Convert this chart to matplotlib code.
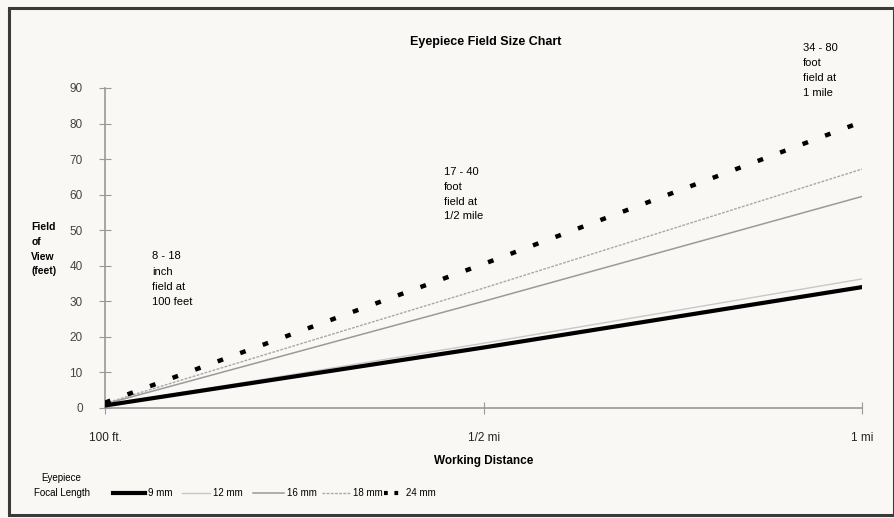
import matplotlib
matplotlib.use("Agg")
import matplotlib.pyplot as plt
from matplotlib.patches import Rectangle
from matplotlib.lines import Line2D

plt.rcParams['font.family'] = ['Liberation Sans Narrow', 'Liberation Sans', 'DejaVu Sans']

# Data
distances = [0.0, 0.5, 1.0]          # fraction of a mile (100 ft ~ 0)
x_tick_labels = ["100 ft.", "1/2 mi", "1 mi"]
fov_9mm = [0.7, 17.0, 34.0]
fov_12mm = [0.8, 18.2, 36.3]
fov_16mm = [1.1, 30.0, 59.5]
fov_18mm = [1.3, 33.7, 67.2]
fov_24mm = [1.5, 40.5, 80.5]
y_ticks = [0, 10, 20, 30, 40, 50, 60, 70, 80, 90]

bg = '#faf8f5'
fig = plt.figure(figsize=(8.94, 5.18), dpi=100, facecolor=bg)
ax = fig.add_axes([0.1174, 0.2124, 0.8470, 0.6178], facecolor=bg)

ax.plot(distances, fov_12mm, color='#c8c8c8', lw=1.0, label='12 mm', zorder=2)
ax.plot(distances, fov_9mm, color='black', lw=3.0, label='9 mm', zorder=3)
ax.plot(distances, fov_16mm, color='#9a9a9a', lw=1.1, label='16 mm', zorder=2)
ax.plot(distances, fov_18mm, color='#a8a8a8', lw=1.0, ls=(0, (2, 1)), label='18 mm', zorder=2)
ax.plot(distances, fov_24mm, color='black', lw=3.2, ls=(0, (1.3, 4.1)), label='24 mm', zorder=4)

ax.set_xlim(0, 1.0)
ax.set_ylim(0, 90)
ax.set_xticks(distances)
ax.set_xticklabels(x_tick_labels, fontsize=8.5, color='#222222')
ax.set_yticks(y_ticks)
ax.set_yticklabels([str(v) for v in y_ticks], fontsize=8.5, color='#444444')
for s in ['top', 'right']:
    ax.spines[s].set_visible(False)
for s in ['left', 'bottom']:
    ax.spines[s].set_color('#999999')
    ax.spines[s].set_linewidth(1.2)
ax.tick_params(axis='y', direction='inout', length=8, color='#999999', pad=12)
ax.tick_params(axis='x', direction='inout', length=8, color='#999999', pad=13)
ax.set_xlabel("Working Distance", fontsize=8.5, fontweight='bold', labelpad=8)

fig.text(0.543, 0.918, "Eyepiece Field Size Chart", fontsize=9, fontweight='bold',
         ha='center', va='center')
fig.text(0.035, 0.519, "Field\nof\nView\n(feet)", fontsize=7.5, fontweight='bold',
         ha='left', va='center', multialignment='left', linespacing=1.6)

fig.text(0.170, 0.461, "8 - 18\ninch\nfield at\n100 feet", fontsize=8, ha='left',
         va='center', multialignment='left', linespacing=1.65)
fig.text(0.497, 0.625, "17 - 40\nfoot\nfield at\n1/2 mile", fontsize=8, ha='left',
         va='center', multialignment='left', linespacing=1.6)
fig.text(0.898, 0.864, "34 - 80\nfoot\nfield at\n1 mile", fontsize=8, ha='left',
         va='center', multialignment='left', linespacing=1.65)

# Legend
fig.text(0.069, 0.062, "Eyepiece\nFocal Length", fontsize=7, ha='center',
         va='center', linespacing=1.6)
handles, labels = ax.get_legend_handles_labels()
hmap = dict(zip(labels, handles))
hmap['24 mm'] = Line2D([], [], color='black', lw=3.0, ls=(0, (0.9, 1.6)))
order = ['9 mm', '12 mm', '16 mm', '18 mm', '24 mm']
leg_x = [113, 182, 253, 322, 384]
leg_len = [3.3, 2.9, 3.2, 2.9, 2.0]
for name, px, hl in zip(order, leg_x, leg_len):
    fig.legend([hmap[name]], [name], loc='center left',
               bbox_to_anchor=(px / 894, 0.048), frameon=False,
               fontsize=7, handlelength=hl, handletextpad=0.25,
               borderpad=0, borderaxespad=0)

fig.patches.append(Rectangle((0.010, 0.006), 0.99, 0.978, transform=fig.transFigure,
                             fill=False, edgecolor='#3a3a3a', lw=2.2))

fig.savefig("out.png", dpi=100, facecolor=bg)
